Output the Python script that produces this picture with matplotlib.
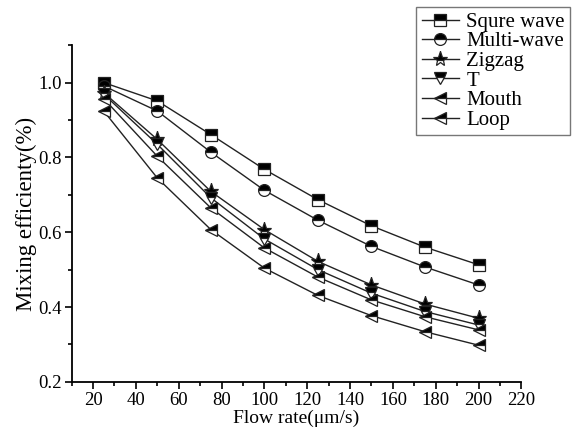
import matplotlib
matplotlib.use("Agg")
import matplotlib.pyplot as plt
from matplotlib.ticker import MultipleLocator

plt.rcParams['font.family'] = ['Liberation Serif', 'DejaVu Serif']

flow_rate = [25, 50, 75, 100, 125, 150, 175, 200]
squre_wave = [1.000, 0.951, 0.861, 0.768, 0.687, 0.617, 0.560, 0.513]
multi_wave = [0.991, 0.924, 0.814, 0.712, 0.632, 0.562, 0.507, 0.459]
zigzag = [0.973, 0.848, 0.709, 0.607, 0.522, 0.459, 0.408, 0.370]
t_shape = [0.969, 0.835, 0.692, 0.582, 0.500, 0.437, 0.388, 0.352]
mouth = [0.957, 0.803, 0.665, 0.558, 0.480, 0.419, 0.374, 0.339]
loop = [0.924, 0.745, 0.607, 0.504, 0.431, 0.377, 0.334, 0.298]

series = [
    ("Squre wave", squre_wave, 's'),
    ("Multi-wave", multi_wave, 'o'),
    ("Zigzag", zigzag, '*'),
    ("T", t_shape, 'v'),
    ("Mouth", mouth, '<'),
    ("Loop", loop, '<'),
]

fig = plt.figure(figsize=(5.73, 4.43), dpi=100)
ax = fig.add_axes([0.125, 0.138, 0.785, 0.760])

for name, vals, mk in series:
    ms = 11 if mk == '*' else 8.5
    ax.plot(flow_rate, vals, color='#222222', lw=1.0, marker=mk, ms=ms,
            fillstyle='top', markerfacecolor='black', markerfacecoloralt='white',
            markeredgecolor='#222222', markeredgewidth=0.9, label=name)

ax.set_xlim(10, 220)
ax.set_ylim(0.2, 1.1)
ax.set_xticks(range(20, 221, 20))
ax.xaxis.set_minor_locator(MultipleLocator(10))
ax.set_yticks([0.2, 0.4, 0.6, 0.8, 1.0])
ax.yaxis.set_minor_locator(MultipleLocator(0.1))
ax.tick_params(which='major', direction='out', length=5, width=1.2, labelsize=13.5, pad=2)
ax.tick_params(which='minor', direction='out', length=3, width=1.2)
ax.spines['top'].set_visible(False)
ax.spines['right'].set_visible(False)
ax.spines['left'].set_linewidth(1.3)
ax.spines['bottom'].set_linewidth(1.3)

ax.set_xlabel("Flow rate(μm/s)", fontsize=14, labelpad=1)
ax.set_ylabel("Mixing efficienty(%)", fontsize=16.5, labelpad=1)

leg = fig.legend(loc='upper right', bbox_to_anchor=(0.995, 0.984),
                 bbox_transform=fig.transFigure, fontsize=15, frameon=True,
                 fancybox=False, borderaxespad=0, handlelength=1.8,
                 handletextpad=0.35, labelspacing=0.0, borderpad=0.25)
leg.get_frame().set_edgecolor('#555555')
leg.get_frame().set_linewidth(1.0)

fig.savefig("out.png", dpi=100)
